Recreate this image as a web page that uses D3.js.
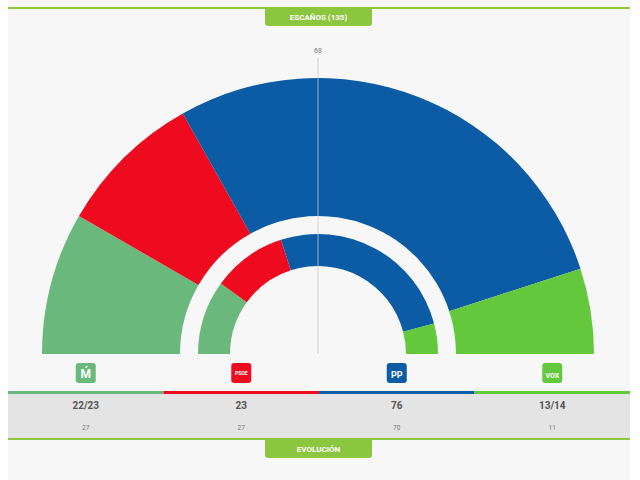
<!DOCTYPE html>
<html>
<head>
<meta charset="utf-8">
<script src="https://cdn.jsdelivr.net/npm/d3@7"></script>
<style>
  html, body { margin: 0; padding: 0; background: #fff; }
  text { font-family: Roboto, "Liberation Sans", sans-serif; }
</style>
</head>
<body>
<div id="chart"></div>
<script>
// party data
const parties = ["Más Madrid", "PSOE", "PP", "VOX"];
const partyIcons = ["M\u0301", "PSOE", "PP", "VOX"];
const partyColors = ["#6ab87b", "#ee0b1f", "#0b5ca4", "#64c83d"];
const seatsMin = [22, 23, 76, 13];
const seatsMax = [23, 23, 76, 14];
const prevSeats = [27, 27, 70, 11];
const totalSeats = 135;
const majority = 68;

const width = 640, height = 480;
const cx = 318, cy = 354;
const green = "#8cc63f";

let svg = d3.select("#chart").append("svg").attr("width", width).attr("height", height);

// panel
svg.append("rect").attr("x", 8).attr("y", 0).attr("width", 622).attr("height", height).attr("fill", "#f7f7f7");

function tab(y, label, h) {
    svg.append("rect").attr("x", 8).attr("y", y - 1).attr("width", 622).attr("height", 2).attr("fill", green);
    let w = 107, x = 265, r = 3;
    svg.append("path")
        .attr("d", `M${x},${y} H${x + w} V${y + h - r} Q${x + w},${y + h} ${x + w - r},${y + h} H${x + r} Q${x},${y + h} ${x},${y + h - r} Z`)
        .attr("fill", green);
    svg.append("text").attr("x", x + w / 2).attr("y", y + h / 2 + 3)
        .attr("text-anchor", "middle").attr("fill", "#fff")
        .attr("font-size", 8).attr("font-weight", "bold").text(label);
}

tab(8, "ESCAÑOS (" + totalSeats + ")", 18);

// angle scale: seats -> radians across the half circle
let angle = d3.scaleLinear().domain([0, totalSeats]).range([-Math.PI / 2, Math.PI / 2]);

function ring(values, r0, r1) {
    let cum = d3.cumsum(values);
    let g = svg.append("g").attr("transform", `translate(${cx},${cy})`);
    let arc = d3.arc().innerRadius(r0).outerRadius(r1);
    g.selectAll("path").data(values).join("path")
        .attr("d", (d, i) => arc({ startAngle: angle(cum[i] - d), endAngle: angle(cum[i]) }))
        .attr("fill", (d, i) => partyColors[i]);
}

let seatsMid = seatsMin.map((d, i) => (d + seatsMax[i]) / 2);
ring(seatsMid, 138, 276);
ring(prevSeats, 88, 120);

// majority line
svg.append("line").attr("x1", cx).attr("x2", cx).attr("y1", 58).attr("y2", cy)
    .attr("stroke", "#c8c8c8").attr("stroke-width", 1).attr("opacity", 0.8);
svg.append("text").attr("x", cx).attr("y", 53).attr("text-anchor", "middle")
    .attr("font-size", 7).attr("fill", "#777").text(majority);

// table
let col = d3.scaleBand().domain(parties).range([8, 630]);

svg.append("rect").attr("x", 8).attr("y", 394).attr("width", 622).attr("height", 44).attr("fill", "#e4e4e4");

let cols = svg.selectAll("g.col").data(parties).join("g").attr("class", "col")
    .attr("transform", d => `translate(${col(d)},0)`);

cols.append("rect").attr("x", col.bandwidth() / 2 - 10).attr("y", 363).attr("width", 20).attr("height", 20)
    .attr("rx", 3).attr("fill", (d, i) => partyColors[i]);
cols.append("text").attr("x", col.bandwidth() / 2).attr("y", (d, i) => i === 1 ? 375 : 378)
    .attr("text-anchor", "middle").attr("fill", "#fff").attr("font-weight", "bold")
    .attr("font-size", (d, i) => [12, 5, 9, 7][i])
    .text((d, i) => partyIcons[i]);

cols.append("rect").attr("x", 0).attr("y", 391).attr("width", col.bandwidth()).attr("height", 3)
    .attr("fill", (d, i) => partyColors[i]);

cols.append("text").attr("x", col.bandwidth() / 2).attr("y", 409).attr("text-anchor", "middle")
    .attr("font-size", 10).attr("font-weight", "bold").attr("fill", "#555")
    .text((d, i) => seatsMin[i] === seatsMax[i] ? seatsMin[i] : seatsMin[i] + "/" + seatsMax[i]);
cols.append("text").attr("x", col.bandwidth() / 2).attr("y", 430).attr("text-anchor", "middle")
    .attr("font-size", 6.5).attr("fill", "#777")
    .text((d, i) => prevSeats[i]);

tab(439, "EVOLUCIÓN", 19);
</script>
</body>
</html>
